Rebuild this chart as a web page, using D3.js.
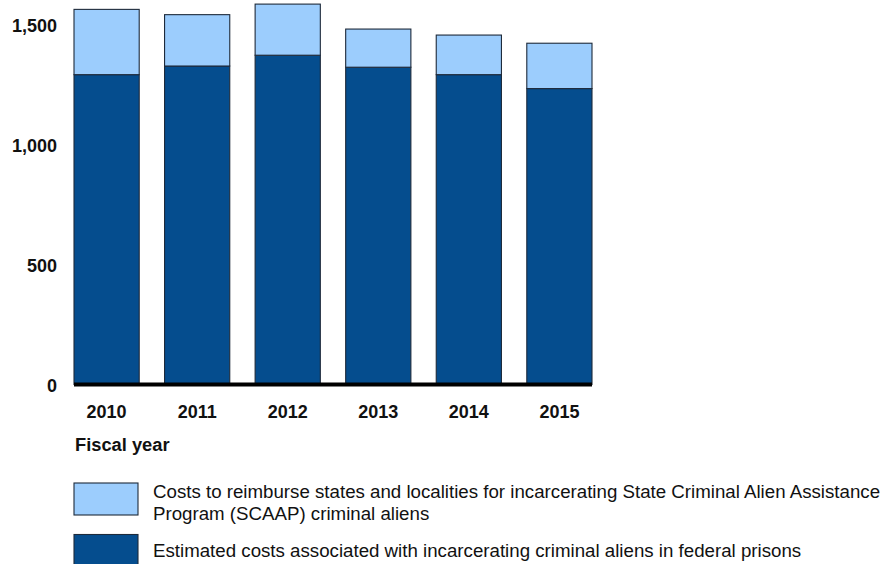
<!DOCTYPE html>
<html>
<head>
<meta charset="utf-8">
<script src="https://cdn.jsdelivr.net/npm/d3@7"></script>
<style>
  html, body { margin: 0; padding: 0; background: #fff; }
  svg { display: block; font-family: "Liberation Sans", Arial, sans-serif; }
</style>
</head>
<body>
<svg id="chart" width="891" height="564"></svg>
<script>
const years = ["2010", "2011", "2012", "2013", "2014", "2015"];
const federalCosts = [1291, 1327, 1372, 1322, 1291, 1233];
const scaapCosts = [272, 214, 213, 159, 165, 189];
const yTicks = [0, 500, 1000, 1500];
const seriesKeys = ["federal", "scaap"];
const seriesLabels = [
  ["Costs to reimburse states and localities for incarcerating State Criminal Alien Assistance", "Program (SCAAP) criminal aliens"],
  ["Estimated costs associated with incarcerating criminal aliens in federal prisons"]
];
const colors = { federal: "#054d8e", scaap: "#9ccdfd" };

const rows = years.map((y, i) => ({ year: y, federal: federalCosts[i], scaap: scaapCosts[i] }));
const stacked = d3.stack().keys(seriesKeys)(rows);

const svg = d3.select("#chart");
const x = d3.scaleBand().domain(years).range([74, 592]).paddingInner(0.28).paddingOuter(0);
const y = d3.scaleLinear().domain([0, 1600]).range([384.5, 0.5]);

// bars
svg.append("g").selectAll("g").data(stacked).join("g")
  .attr("fill", d => colors[d.key])
  .selectAll("rect").data(d => d).join("rect")
  .attr("x", d => x(d.data.year))
  .attr("y", d => y(d[1]))
  .attr("width", x.bandwidth())
  .attr("height", d => y(d[0]) - y(d[1]))
  .attr("stroke", "#1e2a3a")
  .attr("stroke-width", 1.1);

// baseline
svg.append("line")
  .attr("x1", 74).attr("x2", 592)
  .attr("y1", y(0)).attr("y2", y(0))
  .attr("stroke", "#000").attr("stroke-width", 4);

// y tick labels
const yAxis = d3.axisLeft(y).tickValues(yTicks).tickFormat(d3.format(",")).tickSize(0).tickPadding(0);
const gy = svg.append("g").attr("transform", "translate(57,1)").call(yAxis);
gy.select(".domain").remove();
gy.selectAll("text")
  .attr("font-family", "'Liberation Sans', Arial, sans-serif")
  .attr("font-size", 18).attr("font-weight", "bold").attr("fill", "#111");

// x tick labels
const xAxis = d3.axisBottom(x).tickSize(0).tickPadding(0);
const gx = svg.append("g").attr("transform", "translate(0,405.5)").call(xAxis);
gx.select(".domain").remove();
gx.selectAll("text")
  .attr("font-family", "'Liberation Sans', Arial, sans-serif")
  .attr("font-size", 18).attr("font-weight", "bold").attr("fill", "#111");

// axis title
svg.append("text").attr("x", 75).attr("y", 451)
  .attr("font-size", 18.3).attr("font-weight", "bold").attr("fill", "#111")
  .text("Fiscal year");

// legend
const legend = [
  { key: "scaap", lines: seriesLabels[0], y: 483 },
  { key: "federal", lines: seriesLabels[1], y: 534.5 }
];
const lg = svg.append("g").selectAll("g").data(legend).join("g");
lg.append("rect")
  .attr("x", 74).attr("y", d => d.y)
  .attr("width", 64).attr("height", 32)
  .attr("fill", d => colors[d.key])
  .attr("stroke", "#1e2a3a").attr("stroke-width", 1.1);
lg.each(function(d) {
  const t = d3.select(this).append("text")
    .attr("font-size", 18.7).attr("fill", "#111");
  d.lines.forEach((ln, i) => {
    t.append("tspan").attr("x", 153)
      .attr("y", d.key === "scaap" ? 497.5 + i * 22.5 : 556.5)
      .text(ln);
  });
});
</script>
</body>
</html>
